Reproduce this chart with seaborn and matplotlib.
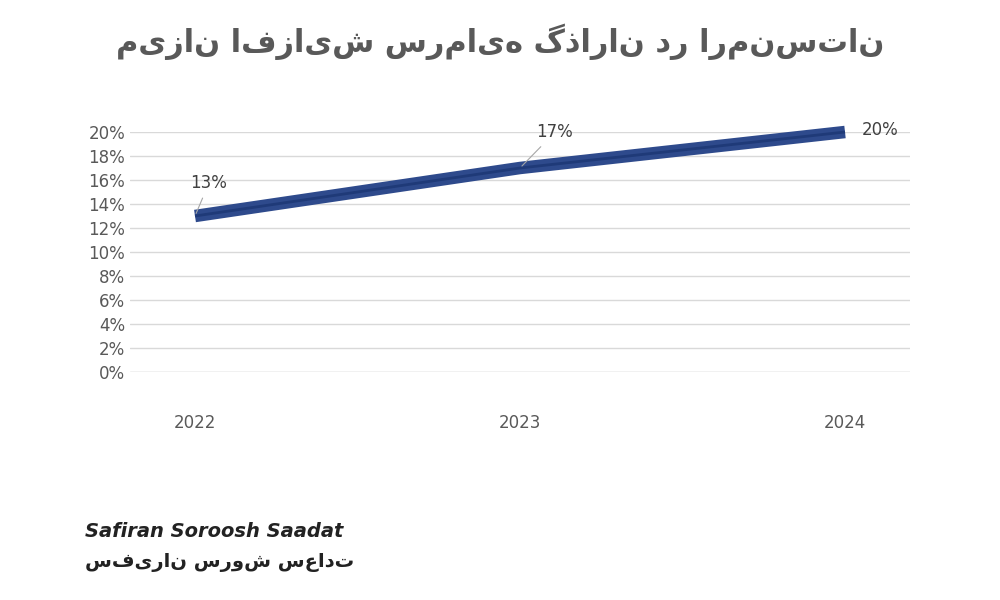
import matplotlib
matplotlib.use("Agg")
import matplotlib.pyplot as plt
import matplotlib.ticker as ticker
import seaborn as sns
import pandas as pd

# --- DATA ---
years = ["2022", "2023", "2024"]
growth = [13, 17, 20]
value_labels = ["13%", "17%", "20%"]
title = "میزان افزایش سرمایه گذاران در ارمنستان"
brand_en = "Safiran Soroosh Saadat"
brand_fa = "سفیران سروش سعادت"

sns.set_theme(style="white")
plt.rcParams['font.family'] = ['DejaVu Sans']

df = pd.DataFrame({"year": years, "growth": growth})

fig = plt.figure(figsize=(10, 6), dpi=100)
ax = fig.add_axes([0.13, 0.38, 0.78, 0.40])

for lw, col in [(9, "#2E4A8C"), (2, "#1F3A78")]:
    sns.lineplot(data=df, x="year", y="growth", ax=ax, color=col,
                 linewidth=lw, solid_capstyle="butt")
for line in ax.lines:
    line.set_clip_on(False)

ax.set_ylim(0, 20)
ax.set_xlim(-0.2, 2.2)
ax.yaxis.set_major_locator(ticker.MultipleLocator(2))
ax.yaxis.set_major_formatter(ticker.FuncFormatter(lambda v, p: f"{int(v)}%"))
ax.grid(axis="y", color="#D9D9D9", linewidth=1)
for s in ax.spines.values():
    s.set_visible(False)
ax.axhline(0, color="#D9D9D9", linewidth=1)
ax.tick_params(axis="both", labelsize=12, labelcolor="#595959", length=0)
ax.tick_params(axis="x", pad=30)
ax.set_xlabel("")
ax.set_ylabel("")

offsets = [(10, 20), (25, 22), (25, -2)]
for i, (y, lab) in enumerate(zip(growth, value_labels)):
    ax.annotate(lab, (i, y), xytext=offsets[i], textcoords="offset points",
                fontsize=12, color="#404040", ha="center",
                arrowprops=dict(arrowstyle="-", color="#A6A6A6", lw=0.8) if i < 2 else None)

fig.text(0.5, 0.93, title, ha="center", va="center", fontsize=22,
         color="#595959", fontweight="bold")

fig.text(0.085, 0.105, brand_en, fontsize=14, fontweight="bold",
         fontstyle="italic", color="#222222")
fig.text(0.085, 0.055, brand_fa, fontsize=14, fontweight="bold",
         color="#222222")

fig.savefig("out.png", dpi=100, facecolor="white")
